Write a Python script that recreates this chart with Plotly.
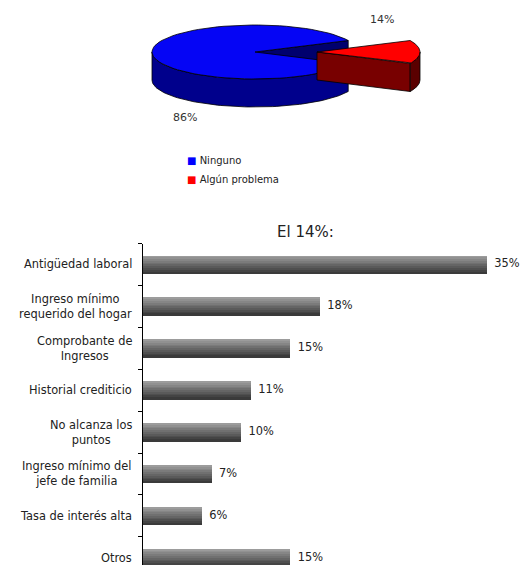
import numpy as np
import plotly.graph_objects as go

# ---- data ----
pie_labels = ["Ninguno", "Algún problema"]
pie_values = [86, 14]
pie_text = ["86%", "14%"]

bar_categories = [
    "Antigüedad laboral",
    "Ingreso mínimo<br>requerido del hogar",
    "Comprobante de<br>Ingresos",
    "Historial crediticio",
    "No alcanza los<br>puntos",
    "Ingreso mínimo del<br>jefe de familia",
    "Tasa de interés alta",
    "Otros",
]
bar_values = [35, 18, 15, 11, 10, 7, 6, 15]
bar_title = "El 14%:"

# page body has an 8px margin; lay out in screen pixels and convert
OFF = 8
W, H = 529 - 2 * OFF, 573 - 2 * OFF
FONT = "DejaVu Sans"


def fx(px):  # screen x -> paper fraction
    return (px - OFF) / W


def fy(py):  # screen y -> paper fraction
    return 1 - (py - OFF) / H


fig = go.Figure()

# ---- 3D-like pie on a screen-pixel axis (x2/y2) ----
PIE_BOTTOM = 205
cx, cy, rx, ry, depth, explode = 255, 52, 103, 27, 28, 62
total = float(sum(pie_values))
red_span = 360.0 * pie_values[1] / total
red_a0, red_a1 = -red_span / 2, red_span / 2
blue_a0, blue_a1 = red_a1, 360 + red_a0


def pt(a, ox=0.0, dz=0.0):
    r = np.radians(a)
    return cx + ox + rx * np.cos(r), cy - ry * np.sin(r) + dz


def arc(a0, a1, ox=0.0, dz=0.0, n=80):
    a = np.linspace(a0, a1, n)
    r = np.radians(a)
    return list(cx + ox + rx * np.cos(r)), list(cy - ry * np.sin(r) + dz)


def poly(xs, ys, color, lw=0.8):
    fig.add_trace(go.Scatter(
        x=xs + [xs[0]], y=ys + [ys[0]], mode="lines", fill="toself",
        fillcolor=color, line=dict(color="black", width=lw),
        xaxis="x2", yaxis="y2", hoverinfo="skip", showlegend=False,
    ))


def radial_face(a, ox, color):
    ex, ey = pt(a, ox)
    poly([cx + ox, ex, ex, cx + ox], [cy, ey, ey + depth, cy + depth], color)


def side(a0, a1, ox, color):
    lo, hi = max(a0, 180), min(a1, 360)
    if a0 < 0:  # slice crossing 0 degrees
        lo, hi = a0, min(a1, 0)
    if hi <= lo:
        return
    xt, yt = arc(lo, hi, ox)
    xb, yb = arc(hi, lo, ox, depth)
    poly(xt + xb, yt + yb, color)


# blue slice (Ninguno)
radial_face(blue_a0, 0, "#00006e")
side(blue_a0, blue_a1, 0, "#00008c")
xs, ys = arc(blue_a0, blue_a1)
poly([cx] + xs, [cy] + ys, "#0505f5")

# red slice (Algún problema), exploded
radial_face(red_a0, explode, "#780000")
side(red_a0, red_a1, explode, "#5a0000")
xs, ys = arc(red_a0, red_a1, explode)
poly([cx + explode] + xs, [cy] + ys, "#ff0000")

# legend entries (coloured square glyph inside the name)
legend_colors = ["#0000ff", "#ff0000"]
for lab, col in zip(pie_labels, legend_colors):
    fig.add_trace(go.Scatter(
        x=[None], y=[None], mode="markers",
        name=f"<span style='color:{col}'>■</span> {lab}",
        marker=dict(size=1, color="rgba(0,0,0,0)"),
        xaxis="x2", yaxis="y2"))

# pie labels
fig.add_annotation(x=cx + explode + 65, y=19, xref="x2", yref="y2", text=pie_text[1],
                   showarrow=False, font=dict(family=FONT, size=11, color="#333"))
fig.add_annotation(x=185, y=117, xref="x2", yref="y2", text=pie_text[0],
                   showarrow=False, font=dict(family=FONT, size=11, color="#333"))

# ---- gradient bars ----
N = 10
bw = 0.425
top_c = np.array([0x9c, 0x9c, 0x9c])
bot_c = np.array([0x3a, 0x3a, 0x3a])
for k in range(N):
    t = k / (N - 1)
    c = (top_c * (1 - t) + bot_c * t).astype(int)
    fig.add_trace(go.Bar(
        x=bar_values, y=bar_categories, orientation="h",
        width=bw / N + 0.003, offset=-bw / 2 + k * bw / N,
        marker=dict(color="rgb(%d,%d,%d)" % tuple(c), line=dict(width=0)),
        showlegend=False, hoverinfo="skip",
    ))

# value labels
fig.add_trace(go.Scatter(
    x=bar_values, y=bar_categories, mode="text",
    text=[f"  {v}%" for v in bar_values], textposition="middle right",
    textfont=dict(family=FONT, size=11.4, color="#222"),
    showlegend=False, hoverinfo="skip", cliponaxis=False,
))

ax_left, ax_right = 143, 505
band = 41.9
y_top = 243.5
y_bottom = OFF + H
y_bot_val = (y_bottom - y_top) / band - 0.5

# category labels, centre-aligned lines, right-anchored next to the axis
cat_annots = [
    dict(x=fx(ax_left - 9), y=cat, xref="paper", yref="y", text=cat,
         xanchor="right", yanchor="middle", align="center", showarrow=False,
         font=dict(family=FONT, size=11.4, color="#222"))
    for cat in bar_categories
]

fig.update_layout(
    width=W, height=H, margin=dict(l=0, r=0, t=0, b=0, autoexpand=False),
    paper_bgcolor="white", plot_bgcolor="white",
    barmode="overlay", bargap=0,
    font=dict(family=FONT, size=11, color="#222"),
    xaxis=dict(domain=[fx(ax_left), fx(ax_right)], range=[0, (ax_right - ax_left) / 9.83],
               showgrid=False, zeroline=False, showticklabels=False, showline=False,
               fixedrange=True, automargin=False),
    yaxis=dict(domain=[0, fy(y_top)], type="category",
               categoryorder="array", categoryarray=bar_categories,
               range=[y_bot_val, -0.5], automargin=False,
               showline=True, linecolor="black", linewidth=1.2,
               ticks="outside", ticklen=4, tickcolor="black", tickson="boundaries",
               showgrid=False, zeroline=False, showticklabels=False),
    xaxis2=dict(domain=[0, 1], range=[OFF, OFF + W], visible=False, fixedrange=True,
                automargin=False),
    yaxis2=dict(domain=[fy(PIE_BOTTOM), 1], range=[PIE_BOTTOM, OFF], visible=False,
                fixedrange=True, automargin=False),
    legend=dict(x=fx(147), y=fy(146), xanchor="left", yanchor="top",
                font=dict(family=FONT, size=10, color="#222"),
                bgcolor="rgba(0,0,0,0)", itemwidth=30, tracegroupgap=0),
    showlegend=True,
    annotations=list(fig.layout.annotations) + cat_annots + [
        dict(x=fx(305), y=fy(232), xref="paper", yref="paper", text=bar_title,
             showarrow=False, font=dict(family=FONT, size=15, color="#222"))
    ],
)

fig.write_html("out.html")
